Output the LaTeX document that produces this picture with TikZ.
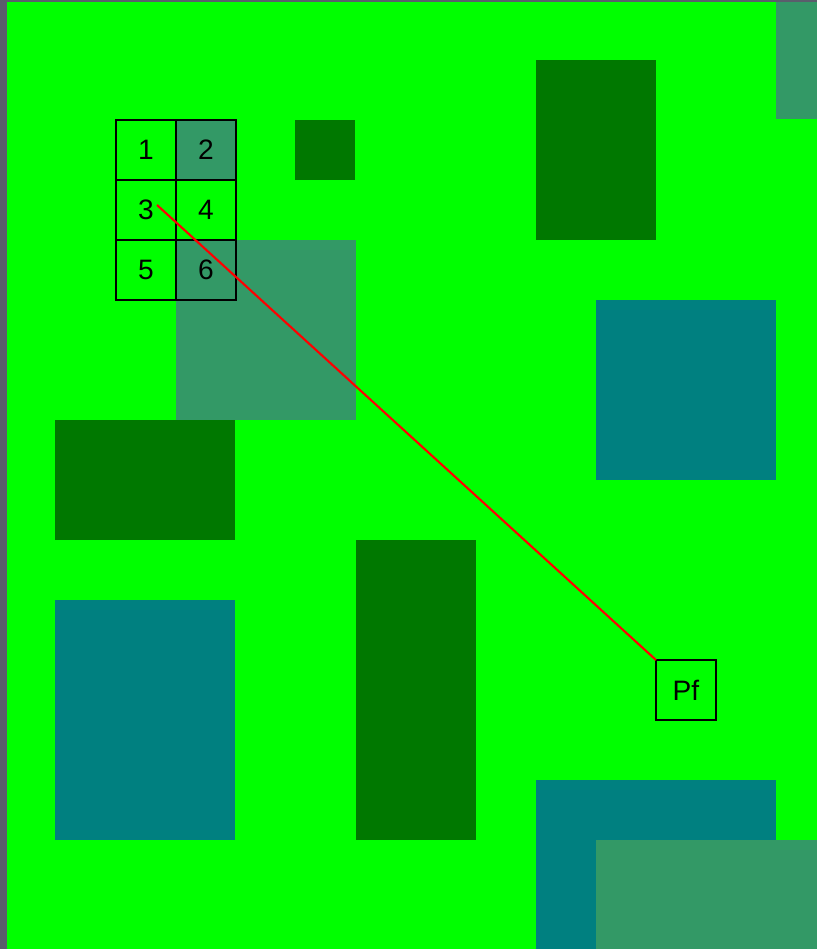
\documentclass[tikz,border=0pt]{standalone}
\usepackage{fontspec}
\setmainfont{Liberation Sans}
\usepackage{tikz}
\usetikzlibrary{positioning}
\usepackage{xcolor}
\definecolor{frame}{HTML}{5A5E6C}
\definecolor{field}{HTML}{00FF00}
\definecolor{forest}{HTML}{007800}
\definecolor{marsh}{HTML}{339966}
\definecolor{water}{HTML}{008080}

\begin{document}
\begin{tikzpicture}[
    x=0.02cm, y=-0.02cm,
    cell/.style={draw, line width=0.9pt, minimum size=1.2cm, inner sep=0pt, outer sep=0pt, font=\fontsize{16}{18}\selectfont},
    goal/.style={cell},
    route/.style={draw=red, line width=1.2pt},
    block/.style={draw=none}
]

% Background
\useasboundingbox (0,0) rectangle (817,949);
\fill[frame] (0,0) rectangle (817,949);
\fill[field] (7,2) rectangle (817,949);

% Forest blocks
\fill[forest] (295,120) rectangle (355,180);
\fill[forest] (536,60) rectangle (656,240);
\fill[forest] (55,420) rectangle (235,540);
\fill[forest] (356,540) rectangle (476,840);

% Marsh blocks
\fill[marsh] (776,2) rectangle (817,119);
\fill[marsh] (176,240) rectangle (356,420);

% Water blocks
\fill[water] (596,300) rectangle (776,480);
\fill[water] (55,600) rectangle (235,840);
\fill[water] (536,780) rectangle (776,949);
\fill[marsh] (596,840) rectangle (817,949);

% Robot cells
\node[cell] (c1) at (146,150) {1};
\node[cell, fill=marsh, right=0pt of c1] (c2) {2};
\node[cell, below=0pt of c1] (c3) {3};
\node[cell, right=0pt of c3] (c4) {4};
\node[cell, below=0pt of c3] (c5) {5};
\node[cell, right=0pt of c5] (c6) {6};

% Goal
\node[goal] (pf) at (686,690) {Pf};

% Path
\coordinate (start) at (157,205);
\draw[route] (start) -- (pf.north west);

\end{tikzpicture}
\end{document}
